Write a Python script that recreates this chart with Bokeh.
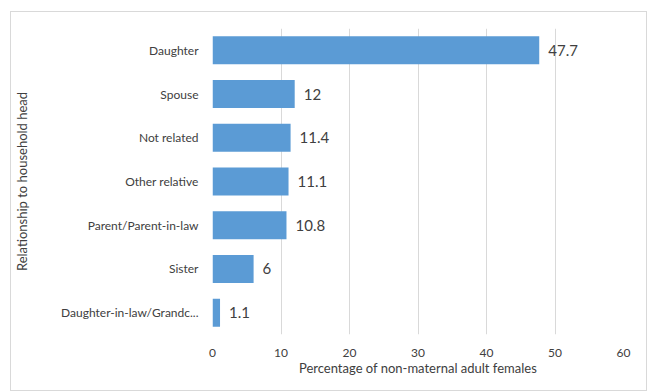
from bokeh.plotting import figure
from bokeh.models import ColumnDataSource, FactorRange, Range1d, FixedTicker
from bokeh.core.properties import value
from bokeh.embed import file_html
from bokeh.resources import INLINE

# Relationship of non-maternal adult females to the household head
categories = ["Daughter", "Spouse", "Not related", "Other relative",
              "Parent/Parent-in-law", "Sister", "Daughter-in-law/Grandc..."]
percentages = [47.7, 12, 11.4, 11.1, 10.8, 6, 1.1]
value_labels = ["47.7", "12", "11.4", "11.1", "10.8", "6", "1.1"]
x_ticks = [0, 10, 20, 30, 40, 50, 60]

FONT = "Lato"
TEXT_COLOR = "#404040"
BAR_COLOR = "#5B9BD5"

source = ColumnDataSource(data=dict(cat=categories, val=percentages, lab=value_labels))

p = figure(
    width=637, height=380,
    y_range=FactorRange(*reversed(categories), range_padding=0),
    x_range=Range1d(0, 60),
    output_backend="svg", toolbar_location=None,
    min_border_left=201, min_border_right=25,
    min_border_top=16, min_border_bottom=58,
)
p.styles = {"margin-left": "10px", "margin-top": "11px",
            "border": "1px solid #d9d9d9", "box-sizing": "border-box"}
p.outline_line_color = None
p.background_fill_color = "white"

p.hbar(y="cat", right="val", left=0, height=0.64, source=source,
       fill_color=BAR_COLOR, line_color=None)

p.text(x="val", y="cat", text="lab", source=source,
       x_offset=9, text_baseline="middle", text_align="left",
       text_font=value(FONT), text_font_size="15px", text_color=TEXT_COLOR)

# x axis
p.xaxis.ticker = FixedTicker(ticks=x_ticks)
p.xaxis.axis_line_color = None
p.xaxis.major_tick_line_color = None
p.xaxis.minor_tick_line_color = None
p.xaxis.major_label_text_font = FONT
p.xaxis.major_label_text_font_size = "12px"
p.xaxis.major_label_text_color = TEXT_COLOR
p.xaxis.major_label_standoff = 8
p.xaxis.axis_label = "Percentage of non-maternal adult females"
p.xaxis.axis_label_text_font = FONT
p.xaxis.axis_label_text_font_size = "13px"
p.xaxis.axis_label_text_font_style = "normal"
p.xaxis.axis_label_text_color = TEXT_COLOR
p.xaxis.axis_label_standoff = 0

# y axis
p.yaxis.axis_line_color = None
p.yaxis.major_tick_line_color = None
p.yaxis.minor_tick_line_color = None
p.yaxis.major_label_text_font = FONT
p.yaxis.major_label_text_font_size = "12px"
p.yaxis.major_label_text_color = TEXT_COLOR
p.yaxis.major_label_standoff = 8
p.yaxis.axis_label = "Relationship to household head"
p.yaxis.axis_label_text_font = FONT
p.yaxis.axis_label_text_font_size = "13px"
p.yaxis.axis_label_text_font_style = "normal"
p.yaxis.axis_label_text_color = TEXT_COLOR
p.yaxis.axis_label_standoff = 28

p.xgrid.grid_line_color = "#d9d9d9"
p.ygrid.grid_line_color = None

open("out.html", "w").write(file_html(p, INLINE))
